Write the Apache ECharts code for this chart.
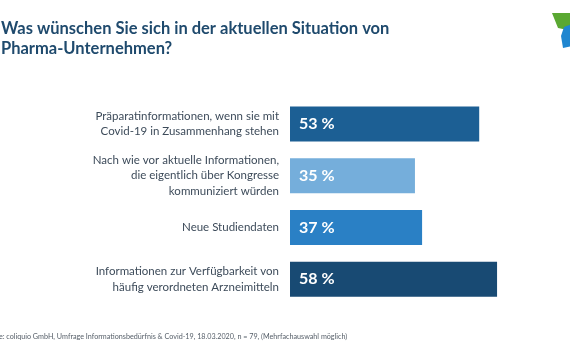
<!DOCTYPE html>
<html>
<head>
<meta charset="utf-8">
<script src="https://cdn.jsdelivr.net/npm/echarts@6/dist/echarts.min.js"></script>
<style>
  html, body { margin: 0; padding: 0; background: #fff; }
  #chart { width: 570px; height: 350px; }
</style>
</head>
<body>
<div id="chart"></div>
<script>
// Antworten (von oben nach unten)
var categories = [
    'Präparatinformationen, wenn sie mit\nCovid-19 in Zusammenhang stehen',
    'Nach wie vor aktuelle Informationen,\ndie eigentlich über Kongresse\nkommuniziert würden',
    'Neue Studiendaten',
    'Informationen zur Verfügbarkeit von\nhäufig verordneten Arzneimitteln'
];
var values = [53, 35, 37, 58];
var barColors = ['#1c5f94', '#75aedb', '#2a80c5', '#184a73'];

var chart = echarts.init(document.getElementById('chart'));

chart.setOption({
    animation: false,
    textStyle: { fontFamily: 'Lato' },
    title: {
        text: 'Was wünschen Sie sich in der aktuellen Situation von\nPharma-Unternehmen?',
        left: -4,
        top: 14,
        textStyle: {
            fontFamily: 'Lato',
            fontSize: 16.5,
            fontWeight: 'bold',
            color: '#1f4a6d',
            lineHeight: 20
        }
    },
    grid: {
        left: 290,
        top: 98,
        width: 357,
        height: 207,
        outerBoundsMode: 'none'
    },
    xAxis: {
        type: 'value',
        min: 0,
        max: 100,
        show: false
    },
    yAxis: {
        type: 'category',
        inverse: true,
        data: categories,
        axisLine: { show: false },
        axisTick: { show: false },
        axisLabel: {
            margin: 11,
            fontSize: 11.5,
            lineHeight: 15.5,
            color: '#3d4b5a',
            align: 'right'
        }
    },
    series: [{
        type: 'bar',
        barWidth: 35,
        data: values.map(function (v, i) {
            return { value: v, itemStyle: { color: barColors[i] } };
        }),
        label: {
            show: true,
            position: 'insideLeft',
            distance: 9,
            formatter: '{c} %',
            fontSize: 16,
            fontWeight: 'bold',
            color: '#ffffff'
        }
    }],
    graphic: [
        {
            // Logo (angeschnitten)
            type: 'polygon',
            shape: { points: [[552, 13], [572, 13], [572, 31], [558, 28]] },
            style: { fill: '#5aa832' }
        },
        {
            type: 'polygon',
            shape: { points: [[572, 24], [564, 27], [561, 36], [563, 48], [572, 46]] },
            style: { fill: '#1f86d0' }
        },
        {
            type: 'text',
            left: -18,
            top: 333,
            style: {
                text: 'Quelle: coliquio GmbH, Umfrage Informationsbedürfnis & Covid-19, 18.03.2020, n = 79, (Mehrfachauswahl möglich)',
                font: '7.2px Lato',
                fill: '#555e68'
            }
        }
    ]
});
</script>
</body>
</html>
